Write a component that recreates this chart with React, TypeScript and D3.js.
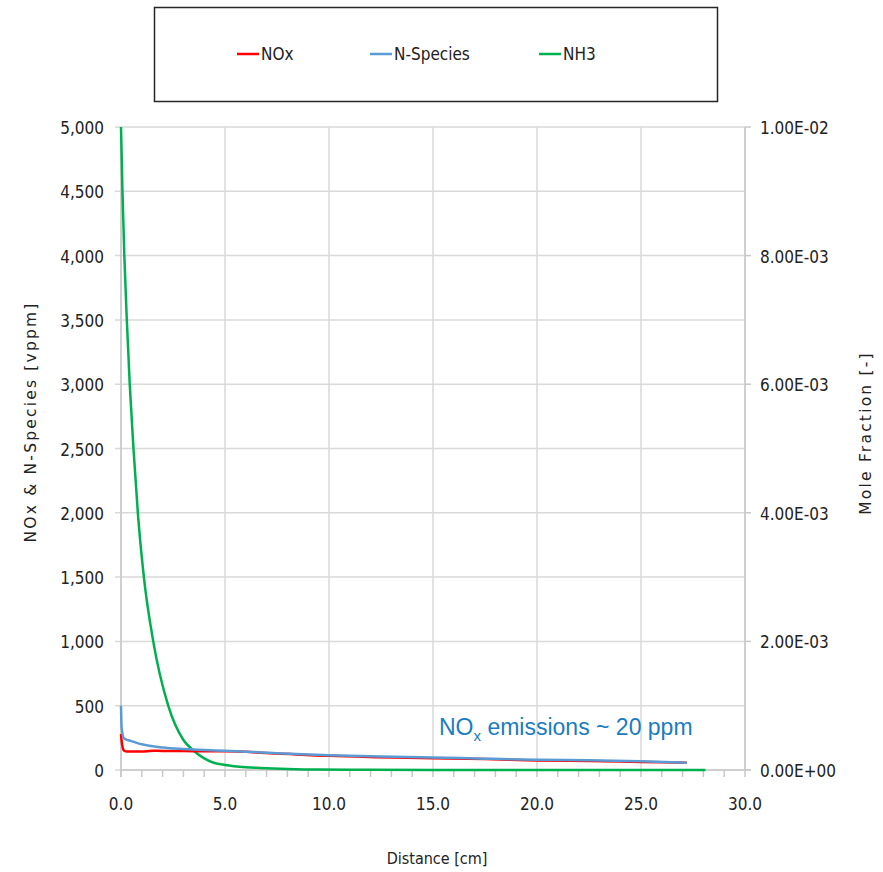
import React from 'react';
import * as d3 from 'd3';

// distance [cm] and values
const noxX = [0, 0.05, 0.15, 0.3, 1.0, 1.5, 2.0, 3.0, 4.0, 5.0, 7.5, 10, 12.5, 15, 17.5, 20, 22.5, 25, 27.2];
const noxY = [280, 200, 150, 143, 143, 150, 148, 148, 145, 145, 128, 110, 100, 92, 85, 74, 70, 63, 57];

const nSpeciesX = [0, 0.03, 0.15, 0.5, 1.0, 2.0, 3.0, 4.0, 5.0, 7.5, 10, 12.5, 15, 17.5, 20, 22.5, 25, 27.2];
const nSpeciesY = [500, 330, 245, 225, 200, 175, 163, 155, 150, 130, 115, 105, 98, 88, 80, 75, 68, 57];

// NH3 on the right axis (mole fraction)
const nh3X = [0, 0.07, 0.16, 0.28, 0.42, 0.6, 0.81, 1.1, 1.55, 2.27, 3.0, 3.5, 4.5, 5.0, 6.0, 6.7, 8, 9.4, 12, 15, 20, 25, 28.1];
const nh3Y = [1.0e-2, 9.0e-3, 8.0e-3, 7.0e-3, 6.0e-3, 5.0e-3, 4.0e-3, 3.0e-3, 2.0e-3, 1.0e-3, 4.66e-4, 3.0e-4, 1.08e-4, 7.8e-5, 4.4e-5, 3.2e-5, 1.6e-5, 6e-6, 2e-6, 1e-6, 6e-7, 4e-7, 2e-7];

const xTicks = [0, 5, 10, 15, 20, 25, 30];
const leftTicks = [0, 500, 1000, 1500, 2000, 2500, 3000, 3500, 4000, 4500, 5000];
const rightTicks = [0, 0.002, 0.004, 0.006, 0.008, 0.01];

const series = [
  { name: 'NOx', color: '#ff0000' },
  { name: 'N-Species', color: '#5b9bd5' },
  { name: 'NH3', color: '#00b050' },
];

const W = 883, H = 872;
const plot = { left: 121, right: 745, top: 127, bottom: 770 };
const narrow = "'Liberation Sans Narrow', 'DejaVu Sans Condensed', 'Roboto Condensed', sans-serif";
const wide = "'DejaVu Sans', Verdana, sans-serif";

export default function App() {
  const x = d3.scaleLinear().domain([0, 30]).range([plot.left, plot.right]);
  const yL = d3.scaleLinear().domain([0, 5000]).range([plot.bottom, plot.top]);
  const yR = d3.scaleLinear().domain([0, 0.01]).range([plot.bottom, plot.top]);

  const lineL = d3.line<[number, number]>().x(d => x(d[0])).y(d => yL(d[1])).curve(d3.curveMonotoneX);
  const lineR = d3.line<[number, number]>().x(d => x(d[0])).y(d => yR(d[1])).curve(d3.curveMonotoneX);

  const nox = noxX.map((v, i) => [v, noxY[i]] as [number, number]);
  const nsp = nSpeciesX.map((v, i) => [v, nSpeciesY[i]] as [number, number]);
  const nh3 = nh3X.map((v, i) => [v, nh3Y[i]] as [number, number]);

  const minor = d3.range(0, 31, 1);
  const legendX = [237, 370, 539];

  return (
    <svg width={W} height={H} style={{ position: 'absolute', left: 0, top: 0, background: '#fff' }}>
      {/* legend */}
      <rect x={154.5} y={7.5} width={563} height={94} fill="#fff" stroke="#262626" strokeWidth={1.5} />
      {series.map((s, i) => (
        <g key={s.name}>
          <line x1={legendX[i]} x2={legendX[i] + 22} y1={54} y2={54} stroke={s.color} strokeWidth={2.5} />
          <text x={legendX[i] + 24} y={60} fontFamily={narrow} fontSize={17} fill="#222">{s.name}</text>
        </g>
      ))}

      {/* grid */}
      {leftTicks.map(t => (
        <line key={'h' + t} x1={plot.left - 6} x2={plot.right} y1={yL(t)} y2={yL(t)} stroke="#d9d9d9" strokeWidth={1.5} />
      ))}
      {xTicks.map(t => (
        <line key={'v' + t} x1={x(t)} x2={x(t)} y1={plot.top} y2={plot.bottom} stroke="#d9d9d9" strokeWidth={1.5} />
      ))}

      {/* axes */}
      <line x1={plot.left} x2={plot.left} y1={plot.top} y2={plot.bottom + 7} stroke="#c8c8c8" strokeWidth={1.5} />
      <line x1={plot.right} x2={plot.right} y1={plot.top} y2={plot.bottom} stroke="#c8c8c8" strokeWidth={1.5} />
      <line x1={plot.left} x2={plot.right + 6} y1={plot.bottom} y2={plot.bottom} stroke="#c8c8c8" strokeWidth={1.5} />
      {minor.map(t => (
        <line key={'m' + t} x1={x(t)} x2={x(t)} y1={plot.bottom} y2={plot.bottom + 7} stroke="#c8c8c8" strokeWidth={1.5} />
      ))}
      {rightTicks.map(t => (
        <line key={'r' + t} x1={plot.right} x2={plot.right + 6} y1={yR(t)} y2={yR(t)} stroke="#c8c8c8" strokeWidth={1.5} />
      ))}

      {/* tick labels */}
      {leftTicks.map(t => (
        <text key={'lt' + t} x={104} y={yL(t) + 7} textAnchor="end" fontFamily={narrow} fontSize={17} fill="#222">
          {d3.format(',')(t)}
        </text>
      ))}
      {xTicks.map(t => (
        <text key={'xt' + t} x={x(t)} y={810} textAnchor="middle" fontFamily={narrow} fontSize={17} fill="#222">
          {d3.format('.1f')(t)}
        </text>
      ))}
      {rightTicks.map(t => (
        <text key={'rt' + t} x={760} y={yR(t) + 7} fontFamily={narrow} fontSize={17} fill="#222">
          {t.toExponential(2).toUpperCase().replace(/E([+-])(\d)$/, 'E$10$2')}
        </text>
      ))}

      {/* axis titles */}
      <text x={437} y={864} textAnchor="middle" fontFamily={narrow} fontSize={16} fill="#222">Distance [cm]</text>
      <text transform="translate(36,422) rotate(-90)" textAnchor="middle"
        fontFamily={wide} fontSize={15.5} letterSpacing={2.2} fill="#222">
        NOx &amp; N-Species [vppm]
      </text>
      <text transform="translate(871,433) rotate(-90)" textAnchor="middle"
        fontFamily={wide} fontSize={15.5} letterSpacing={2.2} fill="#222">
        Mole Fraction [-]
      </text>

      {/* series */}
      <path d={lineR(nh3) ?? ''} fill="none" stroke="#00b050" strokeWidth={2.5} />
      <path d={lineL(nox) ?? ''} fill="none" stroke="#ff0000" strokeWidth={2.5} />
      <path d={lineL(nsp) ?? ''} fill="none" stroke="#5b9bd5" strokeWidth={2.5} />

      {/* annotation */}
      <text x={439} y={735} fontFamily="'Liberation Sans', Arial, sans-serif" fontSize={23} fill="#1a7cc1">
        NO<tspan fontSize={15} dy={6}>x</tspan><tspan dy={-6}> emissions ~ 20 ppm</tspan>
      </text>
    </svg>
  );
}
